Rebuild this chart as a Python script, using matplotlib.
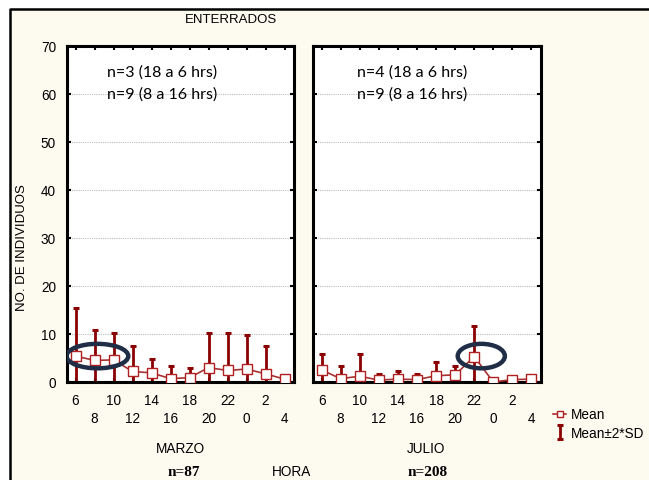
import numpy as np
import matplotlib
matplotlib.use('Agg')
import matplotlib.pyplot as plt
from matplotlib.patches import Ellipse, Rectangle
from matplotlib.lines import Line2D

# hour of day on the x axis, same for both months
hours = ['6', '8', '10', '12', '14', '16', '18', '20', '22', '0', '2', '4']

# MARZO: mean and mean + 2*SD
marzo_mean = [5.4, 4.5, 4.6, 2.2, 1.9, 0.7, 0.9, 3.0, 2.4, 2.7, 1.7, 0.6]
marzo_upper = [15.5, 10.9, 10.3, 7.4, 4.7, 3.3, 2.9, 10.2, 10.2, 9.8, 7.4, 0.6]

# JULIO
julio_mean = [2.5, 0.7, 1.2, 0.4, 0.6, 0.5, 1.3, 1.5, 5.3, 0.0, 0.5, 0.6]
julio_upper = [5.9, 3.4, 5.9, 1.7, 2.3, 1.7, 4.1, 3.4, 11.6, 0.0, 0.9, 1.0]

panel_notes = [['n=3 (18 a 6 hrs)', 'n=9 (8 a 16 hrs)'],
               ['n=4 (18 a 6 hrs)', 'n=9 (8 a 16 hrs)']]
months = ['MARZO', 'JULIO']
totals = ['n=87', 'n=208']
# hours circled on each panel
highlight = [1, 8]

W, H = 649, 481
bg = '#fdfaf0'
bar_col = '#8b0000'
line_col = '#a83232'
ring_col = '#1f2e46'
plt.rcParams['font.family'] = ['Liberation Sans', 'DejaVu Sans']

fig = plt.figure(figsize=(W / 100, H / 100), dpi=100, facecolor='white')


def fx(px):
    return px / W


def fy(py):
    return 1 - py / H


# cream frame with black border on left / top only (rest is cropped)
fig.add_artist(Rectangle((fx(10), 0), 1, fy(10), transform=fig.transFigure,
                         facecolor=bg, edgecolor='none', zorder=-5))
fig.add_artist(Line2D([fx(10), fx(10), 1], [0, fy(10), fy(10)],
                      transform=fig.transFigure, color='black', linewidth=1.8,
                      zorder=-4))

panels = [(67, 294), (313, 541)]
x = np.arange(len(hours))
handles = None

for i, (means, uppers) in enumerate([(marzo_mean, marzo_upper),
                                     (julio_mean, julio_upper)]):
    l, r = panels[i]
    ax = fig.add_axes([fx(l), fy(383), fx(r - l), (383 - 47) / H])
    ax.set_facecolor('white')
    means = np.array(means)
    sd2 = np.array(uppers) - means

    ax.set_xlim(-0.45, len(hours) - 0.5)
    ax.set_ylim(0, 70)
    ax.set_yticks(np.arange(0, 71, 10))
    for g in range(10, 70, 10):
        ax.axhline(g, color='#bdbdbd', linestyle=(0, (1, 1)), linewidth=0.8, zorder=0)

    eb = ax.errorbar(x, means, yerr=[sd2, sd2], fmt='none', ecolor=bar_col,
                     elinewidth=2.0, capsize=2.5, capthick=2.2, zorder=2)
    ln, = ax.plot(x, means, color=line_col, linewidth=1.2, marker='s',
                  markersize=6.5, markerfacecolor='white',
                  markeredgecolor='#b02020', markeredgewidth=1.0, zorder=3)
    if handles is None:
        handles = [ln, eb]

    # circled points
    h = highlight[i]
    wdt = 3.25 if i == 0 else 2.47
    ax.add_patch(Ellipse((h + (0.15 if i == 0 else 0.37), 5.4), wdt, 5.1,
                         fill=False, edgecolor=ring_col, linewidth=3.2, zorder=4))

    for s in ax.spines.values():
        s.set_linewidth(2.2)
    ax.set_xticks(x[::2])
    ax.set_xticklabels(hours[::2])
    ax.set_xticks(x[1::2], minor=True)
    ax.set_xticklabels(hours[1::2], minor=True)
    ax.tick_params(axis='x', which='both', direction='in', top=True,
                   length=3, width=1.5, labelsize=9.8)
    ax.tick_params(axis='x', which='major', pad=8)
    ax.tick_params(axis='x', which='minor', pad=21)
    ax.tick_params(axis='y', direction='in', right=True, length=3, width=1.5,
                   labelsize=9.8, pad=8)
    if i == 1:
        ax.tick_params(axis='y', labelleft=False)

    for k, note in enumerate(panel_notes[i]):
        ax.text(0.175 if i == 0 else 0.195, 0.925 - k * 0.066, note,
                transform=ax.transAxes, family=['Lato', 'DejaVu Sans'],
                fontsize=11.5, va='center', ha='left')

fig.text(fx(231), fy(20), 'ENTERRADOS', ha='center', va='center', fontsize=9.5)
fig.text(fx(22), fy(248), 'NO. DE INDIVIDUOS', rotation=90, ha='center',
         va='center', fontsize=9.5)
fig.text(fx(180), fy(449), months[0], ha='center', va='center', fontsize=9.8)
fig.text(fx(426), fy(449), months[1], ha='center', va='center', fontsize=9.8)
fig.text(fx(184), fy(473), totals[0], ha='center', va='center', fontsize=11,
         family='Liberation Serif', weight='bold')
fig.text(fx(428), fy(473), totals[1], ha='center', va='center', fontsize=11,
         family='Liberation Serif', weight='bold')
fig.text(fx(292), fy(472), 'HORA', ha='center', va='center', fontsize=9.8)

fig.legend(handles, ['Mean', 'Mean\u00b12*SD'], loc='upper left',
           bbox_to_anchor=(fx(548), fy(403)), frameon=False, fontsize=9.8,
           handlelength=0.9, handletextpad=0.35, labelspacing=0.3,
           markerscale=0.75, borderaxespad=0)

fig.savefig('out.png', dpi=100, facecolor=fig.get_facecolor())
